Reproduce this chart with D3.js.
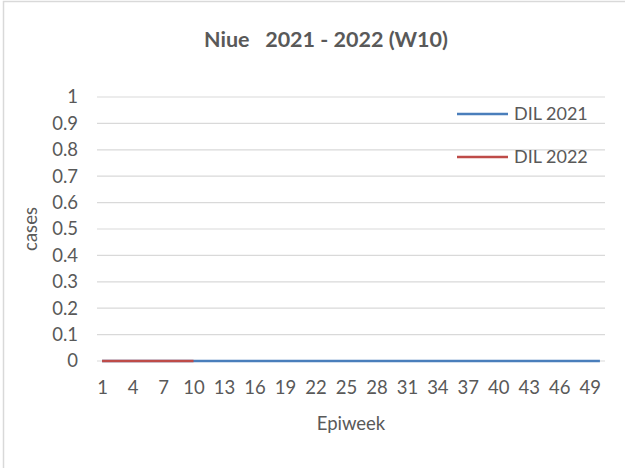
<!DOCTYPE html>
<html>
<head>
<meta charset="utf-8">
<script src="https://cdn.jsdelivr.net/npm/d3@7"></script>
<style>
  body { margin: 0; background: #fff; }
  text { font-family: Lato, "Open Sans", sans-serif; fill: #595959; }
</style>
</head>
<body>
<svg width="625" height="468"></svg>
<script>
let weeks = d3.range(1, 51);
let dil2021 = [0, 0, 0, 0, 0, 0, 0, 0, 0, 0, 0, 0, 0, 0, 0, 0, 0, 0, 0, 0, 0, 0, 0, 0, 0,
  0, 0, 0, 0, 0, 0, 0, 0, 0, 0, 0, 0, 0, 0, 0, 0, 0, 0, 0, 0, 0, 0, 0, 0, 0];
let dil2022 = [0, 0, 0, 0, 0, 0, 0, 0, 0, 0];
let yTicks = [0, 0.1, 0.2, 0.3, 0.4, 0.5, 0.6, 0.7, 0.8, 0.9, 1];
let seriesNames = ["DIL 2021", "DIL 2022"];
let colors = ["#4a7ebb", "#be4b48"];

let svg = d3.select("svg");

svg
  .append("rect")
  .attr("x", 3.5)
  .attr("y", 1.5)
  .attr("width", 660)
  .attr("height", 500)
  .attr("fill", "#fff")
  .attr("stroke", "#d9d9d9")
  .attr("stroke-width", 1.5);

let x = d3.scalePoint().domain(weeks).range([97, 605]).padding(0.5);
let y = d3.scaleLinear().domain([0, 1]).range([361, 97]);

// gridlines
svg
  .append("g")
  .selectAll("line")
  .data(yTicks)
  .enter()
  .append("line")
  .attr("x1", 97)
  .attr("x2", 605)
  .attr("y1", (d) => y(d))
  .attr("y2", (d) => y(d))
  .attr("stroke", "#d9d9d9")
  .attr("stroke-width", 1.2);

// y axis labels
let yAxis = svg
  .append("g")
  .attr("transform", "translate(78,0)")
  .call(d3.axisLeft(y).tickValues(yTicks).tickSize(0).tickPadding(0).tickFormat(d3.format("~g")));
yAxis.select(".domain").remove();
yAxis.selectAll("text").style("font-size", "18.5px").attr("fill", "#595959").style("font-family", "Lato, sans-serif");

// x axis labels
let xAxis = svg
  .append("g")
  .attr("transform", "translate(0,381)")
  .call(d3.axisBottom(x).tickValues(weeks.filter((d) => (d - 1) % 3 === 0)).tickSize(0).tickPadding(0));
xAxis.select(".domain").remove();
xAxis.selectAll("text").style("font-size", "18.5px").attr("fill", "#595959").style("font-family", "Lato, sans-serif");

let line = d3
  .line()
  .x((d, i) => x(weeks[i]))
  .y((d) => y(d));

svg
  .append("path")
  .attr("d", line(dil2021))
  .attr("fill", "none")
  .attr("stroke", colors[0])
  .attr("stroke-width", 2.5);

svg
  .append("path")
  .attr("d", line(dil2022))
  .attr("fill", "none")
  .attr("stroke", colors[1])
  .attr("stroke-width", 2.5);

// legend
let legend = svg
  .selectAll("g.legend")
  .data(seriesNames)
  .enter()
  .append("g")
  .attr("class", "legend")
  .attr("transform", (d, i) => "translate(457," + (114 + i * 43) + ")");

legend
  .append("line")
  .attr("x1", 0)
  .attr("x2", 51)
  .attr("stroke", (d, i) => colors[i])
  .attr("stroke-width", 2.5);

legend
  .append("text")
  .attr("x", 57)
  .attr("dy", "0.35em")
  .style("font-size", "18px")
  .text((d) => d);

svg
  .append("text")
  .attr("x", 326)
  .attr("y", 47)
  .attr("text-anchor", "middle")
  .style("font-size", "21.5px")
  .style("font-weight", "bold")
  .style("white-space", "pre")
  .text("Niue   2021 - 2022 (W10)");

svg
  .append("text")
  .attr("transform", "translate(37,229) rotate(-90)")
  .attr("text-anchor", "middle")
  .style("font-size", "18.5px")
  .text("cases");

svg
  .append("text")
  .attr("x", 351)
  .attr("y", 430)
  .attr("text-anchor", "middle")
  .style("font-size", "18.5px")
  .text("Epiweek");
</script>
</body>
</html>
